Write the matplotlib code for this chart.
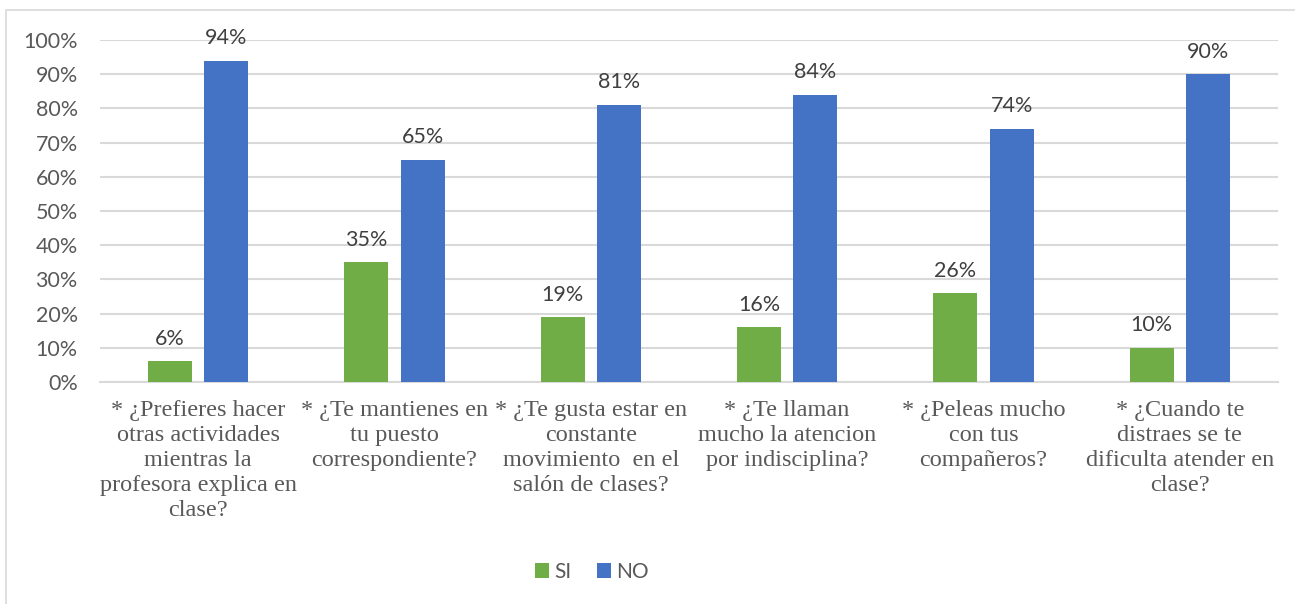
import matplotlib
matplotlib.use("Agg")
import matplotlib.pyplot as plt
import numpy as np
from matplotlib.patches import Rectangle

categories = [
    "* ¿Prefieres hacer\notras actividades\nmientras la\nprofesora explica en\nclase?",
    "* ¿Te mantienes en\ntu puesto\ncorrespondiente?",
    "* ¿Te gusta estar en\nconstante\nmovimiento  en el\nsalón de clases?",
    "* ¿Te llaman\nmucho la atencion\npor indisciplina?",
    "* ¿Peleas mucho\ncon tus\ncompañeros?",
    "* ¿Cuando te\ndistraes se te\ndificulta atender en\nclase?",
]
si_values = [6, 35, 19, 16, 26, 10]
no_values = [94, 65, 81, 84, 74, 90]
series_names = ["SI", "NO"]
yticks = [0, 10, 20, 30, 40, 50, 60, 70, 80, 90, 100]

green = "#70ad47"
blue = "#4472c4"
txt = "#595959"

fig = plt.figure(figsize=(12.95, 6.04), dpi=100)
ax = fig.add_axes([100/1295, 1-382/604, 1178/1295, 342/604])

x = np.arange(len(categories))
w = 0.224
off = 0.144
b1 = ax.bar(x - off, si_values, w, color=green, label=series_names[0], zorder=3)
b2 = ax.bar(x + off, no_values, w, color=blue, label=series_names[1], zorder=3)

for bars, vals in ((b1, si_values), (b2, no_values)):
    for r, v in zip(bars, vals):
        ax.annotate(f"{v}%", (r.get_x() + r.get_width()/2, v), xytext=(0, 9),
                    textcoords="offset points", ha="center", va="bottom",
                    fontsize=15.5, color="#404040", family="Lato")

ax.set_xlim(-0.5, len(categories) - 0.5)
ax.set_ylim(0, 100)
ax.set_yticks(yticks)
ax.set_yticklabels([f"{t}%" for t in yticks], fontsize=15.5, color=txt, family="Lato")
ax.yaxis.grid(True, color="#d9d9d9", linewidth=1.5, zorder=0)
ax.set_xticks(x)
ax.set_xticklabels(categories, fontsize=17.5, color=txt, family="Liberation Serif",
                   linespacing=1.25)
ax.tick_params(axis="both", length=0)
ax.tick_params(axis="x", pad=13)
ax.tick_params(axis="y", pad=16)
for s in ["top", "right", "left"]:
    ax.spines[s].set_visible(False)
ax.spines["bottom"].set_color("#d9d9d9")
ax.spines["bottom"].set_linewidth(1.5)

leg = fig.legend(handles=[b1, b2], labels=series_names, loc="center",
                 bbox_to_anchor=(592/1295, 1-572/604), ncol=2, frameon=False,
                 handlelength=0.7, handleheight=0.7, handletextpad=0.25,
                 columnspacing=1.2, prop={"family": "Lato", "size": 15})
for t in leg.get_texts():
    t.set_color(txt)

fig.patches.append(Rectangle((6/1295, -0.01), 1.02, 1-10/604 + 0.01,
                             transform=fig.transFigure, fill=False,
                             edgecolor="#d9d9d9", linewidth=1.2))

fig.savefig("out.png", dpi=100, facecolor="white")
